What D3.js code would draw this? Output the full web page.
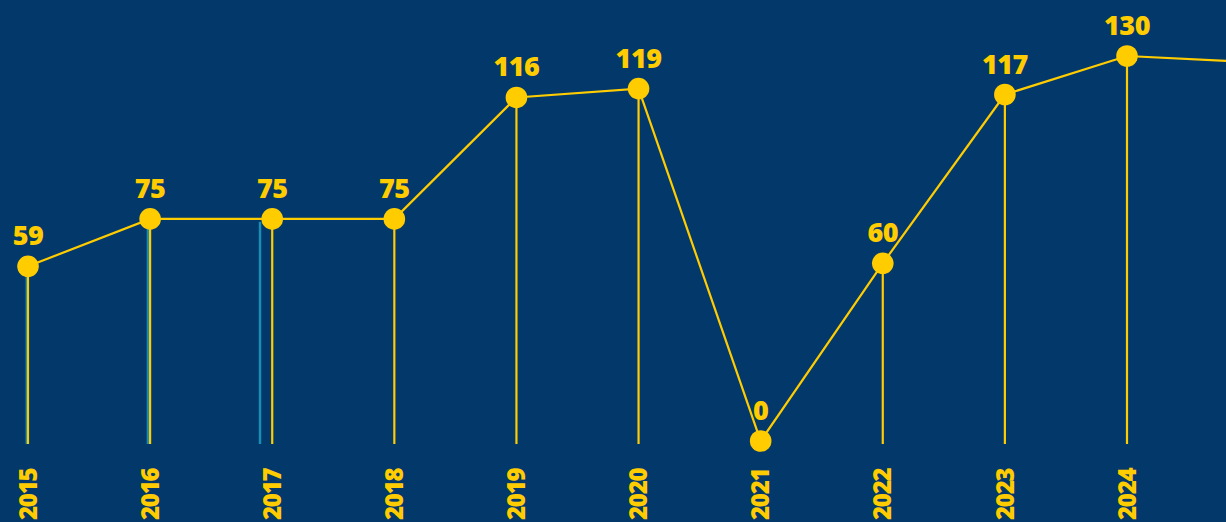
<!DOCTYPE html>
<html><head><meta charset="utf-8">
<script src="https://cdn.jsdelivr.net/npm/d3@7"></script>
<style>
html,body{margin:0;padding:0;background:#03386b;overflow:hidden}
svg{display:block}
</style></head>
<body><svg id="chart" width="1226" height="522"></svg>
<script>
const years = [2015, 2016, 2017, 2018, 2019, 2020, 2021, 2022, 2023, 2024, 2025];
const values = [59, 75, 75, 75, 116, 119, 0, 60, 117, 130, 128];
const yearLabels = ["2015","2016","2017","2018","2019","2020","2021","2022","2023","2024","2025"];
// faint teal trailing drop lines (secondary series)
const ghostYears = [2015 - 0.01, 2016 - 0.018, 2017 - 0.1];
const ghostValues = [59, 75, 74];

const W = 1226, H = 522;
const navy = "#03386b", yellow = "#ffcc00", teal = "#1a8db3";
const svg = d3.select("#chart");
svg.append("rect").attr("width", W).attr("height", H).attr("fill", navy);

const x = d3.scaleLinear().domain([2015, 2024]).range([28, 1127]);
const y = d3.scaleLinear().domain([0, 130]).range([441, 56]);
const baseY = 444;
const font = "'Open Sans', sans-serif";

const data = years.map((yr, i) => ({yr, v: values[i], label: yearLabels[i]}));
const visible = data.filter(d => x(d.yr) < W);

// ghost lines
svg.append("g").selectAll("line").data(ghostYears.map((g, i) => ({g, v: ghostValues[i]})))
  .join("line")
  .attr("x1", d => x(d.g)).attr("x2", d => x(d.g))
  .attr("y1", d => y(d.v)).attr("y2", baseY)
  .attr("stroke", teal).attr("stroke-width", 2.5);

// drop lines
svg.append("g").selectAll("line").data(data).join("line")
  .attr("x1", d => x(d.yr)).attr("x2", d => x(d.yr))
  .attr("y1", d => y(d.v)).attr("y2", baseY)
  .attr("stroke", yellow).attr("stroke-width", 2.2);

// connecting line
svg.append("path").datum(data)
  .attr("d", d3.line().x(d => x(d.yr)).y(d => y(d.v)))
  .attr("fill", "none").attr("stroke", yellow).attr("stroke-width", 2.2);

// points
svg.append("g").selectAll("circle").data(data).join("circle")
  .attr("cx", d => x(d.yr)).attr("cy", d => y(d.v)).attr("r", 10.8)
  .attr("fill", yellow);

// value labels
svg.append("g").selectAll("text").data(visible).join("text")
  .attr("x", d => x(d.yr)).attr("y", d => y(d.v) - 21)
  .attr("text-anchor", "middle")
  .attr("font-family", font).attr("font-weight", 800).attr("font-size", 27)
  .attr("letter-spacing", -0.5)
  .attr("fill", yellow)
  .text(d => d.v);

// year labels
svg.append("g").selectAll("text").data(visible).join("text")
  .attr("transform", d => `translate(${x(d.yr)},520) rotate(-90)`)
  .attr("dy", "0.36em")
  .attr("text-anchor", "start")
  .attr("font-family", font).attr("font-weight", 800).attr("font-size", 24)
  .attr("letter-spacing", -1.2)
  .attr("fill", yellow)
  .text(d => d.label);
</script></body></html>
